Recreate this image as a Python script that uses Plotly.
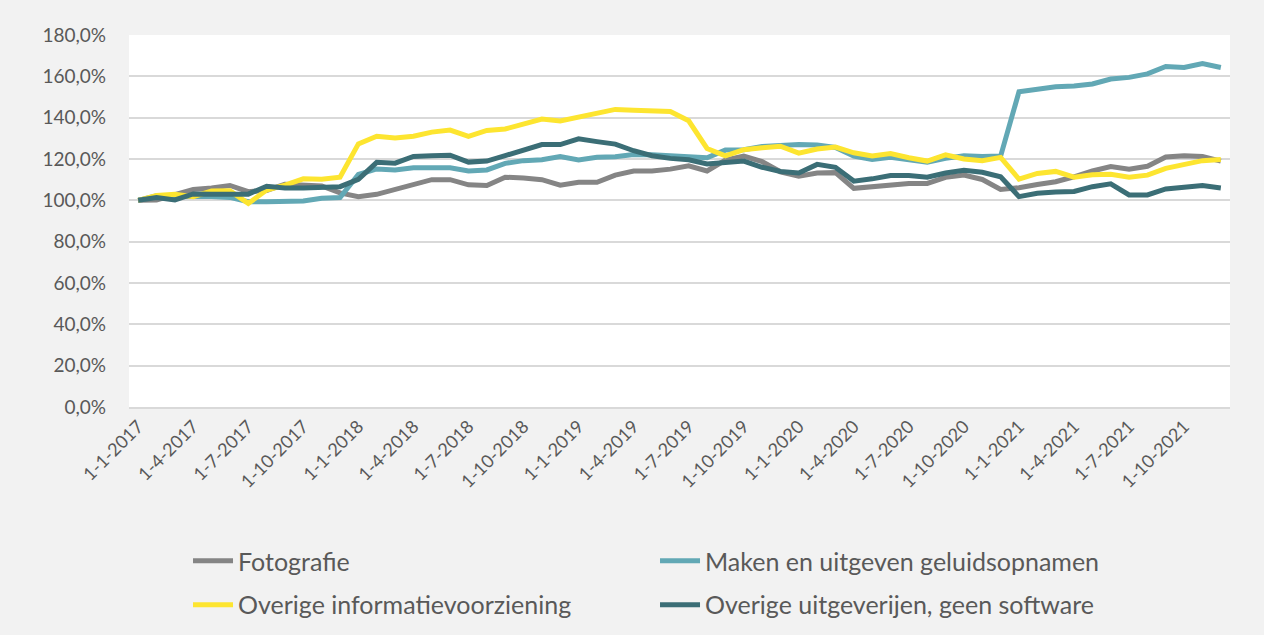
import plotly.graph_objects as go

years = [2017, 2018, 2019, 2020, 2021]
months = [f"1-{m}-{y}" for y in years for m in range(1, 13)]
tick_labels = [f"1-{m}-{y}" for y in years for m in (1, 4, 7, 10)]

fotografie = [
    100, 100.2, 102.8, 105.2, 106, 107.2, 104.2, 104.8, 107.8, 107.6, 107, 103.6,
    101.8, 102.9, 105.3, 107.7, 110, 110, 107.5, 107.2, 111.2, 110.8, 110, 107.3,
    108.7, 108.7, 112.2, 114.2, 114.2, 115.1, 116.7, 114.2, 119.5, 121.4, 118.7, 113.8,
    111.7, 113.2, 113.4, 105.8, 106.6, 107.4, 108.2, 108.2, 111.1, 112.2, 110.1, 105.3,
    106.1, 107.7, 109, 111.4, 114.2, 116.3, 115, 116.5, 121, 121.6, 121.2, 119,
]
geluid = [
    100, 102.2, 101.8, 101.9, 101.8, 101.4, 99.3, 99.3, 99.3, 99.7, 101, 101.4,
    112.5, 115.2, 114.7, 115.8, 115.8, 115.8, 114.2, 114.7, 117.9, 119.2, 119.6, 121.2,
    119.5, 120.8, 121.1, 122.2, 122, 121.7, 121.1, 120.6, 124.3, 124.5, 126, 126.8,
    127, 126.8, 125.6, 121.4, 119.8, 120.8, 119.8, 118.4, 120.3, 121.6, 121.2, 121.4,
    152.5, 154, 155, 155.3, 156.3, 158.7, 159.5, 161.2, 164.8, 164.3, 166.2, 164.3,
]
informatie = [
    100, 102.4, 102.9, 101.8, 104.5, 104.6, 98.5, 105, 107.4, 110.4, 110.2, 111.2,
    127.3, 131, 130.2, 131, 133, 134, 131, 133.8, 134.5, 137.2, 139.3, 138.4,
    140.2, 141.8, 144, 143.6, 143, 143, 138.5, 125.1, 121.5, 124.5, 125.4, 126.2,
    122.8, 124.8, 125.8, 123, 121.5, 122.6, 120.6, 119, 122, 120, 119.2, 120.8,
    110.3, 113, 114, 111.2, 112.4, 112.6, 111.2, 112.2, 115.5, 117.2, 119.2, 119.8,
]
uitgeverijen = [
    100, 101.4, 100.2, 103.1, 103, 103, 103, 106.8, 106, 106, 106.3, 106.6,
    110.2, 118.4, 118, 121.2, 121.6, 121.8, 118.5, 119, 121.6, 124, 127, 127,
    129.8, 128.4, 127.2, 124, 121.6, 120.3, 119.6, 117.6, 118.6, 119, 116, 114,
    113.2, 117.4, 116, 109.3, 110.4, 112, 112, 111.2, 113.2, 114.6, 113.6, 111.4,
    101.8, 103.4, 104, 104.3, 106.6, 108, 102.6, 102.6, 105.5, 106.6, 107.2, 106,
]

series = [
    ("Fotografie", fotografie, "#858585", "legend"),
    ("Maken en uitgeven geluidsopnamen", geluid, "#62a8b5", "legend"),
    ("Overige informatievoorziening", informatie, "#fde530", "legend2"),
    ("Overige uitgeverijen, geen software", uitgeverijen, "#3b6e76", "legend2"),
]

fig = go.Figure()
for name, vals, col, lg in series:
    fig.add_trace(go.Scatter(
        x=months, y=vals, name=name, mode="lines", legend=lg,
        line=dict(color=col, width=5),
    ))

font_family = "Lato, 'Open Sans', sans-serif"
legend_common = dict(
    orientation="h", x=0.0536, xanchor="left", yanchor="middle",
    entrywidth=412, entrywidthmode="pixels",
    font=dict(size=25, color="#595959", family=font_family),
    bgcolor="rgba(0,0,0,0)", itemwidth=40,
)
fig.update_layout(
    width=1264, height=635,
    paper_bgcolor="#f2f2f2", plot_bgcolor="#ffffff",
    margin=dict(l=129, r=34, t=35, b=228, autoexpand=False),
    separators=",.",
    font=dict(family=font_family, size=18, color="#595959"),
    showlegend=True,
    legend=dict(y=-0.414, **legend_common),
    legend2=dict(y=-0.532, **legend_common),
)
fig.update_xaxes(
    type="category", categoryorder="array", categoryarray=months,
    tickmode="array", tickvals=tick_labels, ticktext=tick_labels,
    tickangle=-45, showgrid=False, showline=True, linecolor="#d9d9d9", linewidth=2,
    ticks="", range=[-0.5, len(months) - 0.5], automargin=False,
    tickfont=dict(size=18, color="#595959"),
)
fig.update_yaxes(
    range=[0, 180], dtick=20, tick0=0, tickformat=".1f", ticksuffix="%",
    showgrid=True, gridcolor="#d9d9d9", gridwidth=1.5, zeroline=False,
    showline=False, ticks="", tickfont=dict(size=19, color="#595959"),
    ticklabelstandoff=22, automargin=False,
)

fig.write_html(
    "out.html",
    config={"displayModeBar": False},
    post_script="document.body.style.margin='0';document.body.style.background='#f2f2f2';",
)
